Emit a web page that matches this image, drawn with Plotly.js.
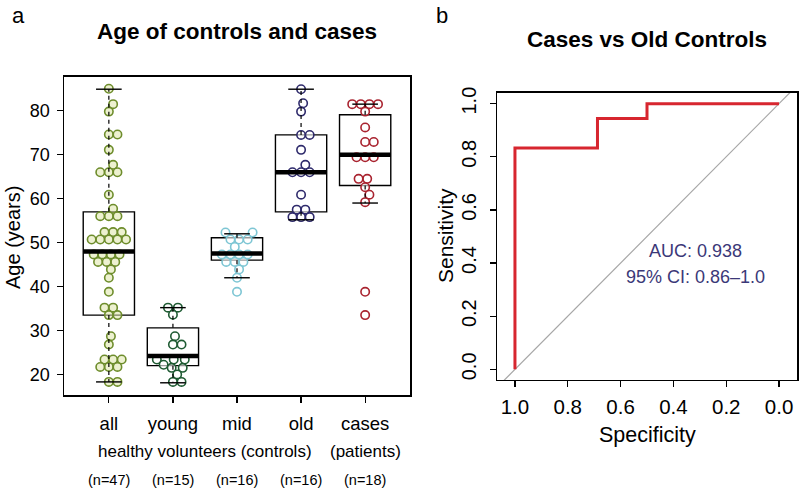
<!DOCTYPE html>
<html><head><meta charset="utf-8">
<script src="https://cdn.plot.ly/plotly-3.0.1.min.js"></script>
<style>html,body{margin:0;padding:0;background:#fff}#chart{width:800px;height:491px}</style>
</head><body><div id="chart"></div>
<script>
// ---------- data ----------
const groups = ["all", "young", "mid", "old", "cases"];
const groupN = ["(n=47)", "(n=15)", "(n=16)", "(n=16)", "(n=18)"];
const ageAll = [85, 81.5, 79.8, 74.6, 74.6, 71.1, 67.7, 66, 66, 66, 60.9, 57.7, 56, 56, 56,
  52.4, 52.4, 52.4, 50.7, 50.7, 50.7, 50.7, 50.7, 47.3, 47.3, 47.3, 47.3, 45.6, 45.6, 45.6,
  43.9, 42, 38.8, 35.2, 35.2, 33.5, 33.5, 28.7, 26.8, 23.4, 23.4, 23.4, 21.7, 21.7, 21.7, 18.3, 18.3];
const ageYoung = [35.2, 35.2, 33.6, 28.7, 26.8, 26.8, 23.4, 23.4, 23.4, 22.2, 21.5, 21.5, 20, 18.3, 18.3];
const ageMid = [52.3, 52.3, 50.7, 50.7, 50.7, 49.0, 47.3, 47.3, 47.3, 47.3, 45.6, 45.6, 45.6, 43.9, 42.0, 38.8];
const ageOld = [84.9, 81.7, 79.8, 74.5, 74.5, 71.1, 67.7, 66, 66, 66, 60.9, 57.5, 57.5, 55.8, 55.8, 55.8];
const ageCases = [81.5, 81.5, 81.5, 81.5, 79.8, 76.2, 72.9, 72.9, 69.4, 69.4, 69.4, 64.5, 64.5, 62.6, 60.9, 59.2, 38.8, 33.5];

const boxQ1 = [33.5, 22.0, 46.0, 57.0, 63.0];
const boxMedian = [48.0, 24.2, 47.5, 66.0, 70.0];
const boxQ3 = [57.0, 30.6, 51.1, 74.5, 79.1];
const whiskerLow = [18.3, 18.1, 42.0, 55.2, 59.0];
const whiskerHigh = [84.9, 35.2, 52.0, 84.9, 81.5];

const rocSpecificity = [1, 1, 0.6875, 0.6875, 0.5, 0.5, 0];
const rocSensitivity = [0, 0.8333, 0.8333, 0.9444, 0.9444, 1, 1];
const aucLines = ["AUC: 0.938", "95% CI: 0.86\u20131.0"];

// ---------- styles ----------
const lineColors = ["#6e8d2c", "#1f5b33", "#7ec6d4", "#2f2b6c", "#a9232f"];
const fillColors = ["rgba(222,230,170,0.55)", "rgba(255,255,255,0.6)", "rgba(255,255,255,0.6)", "rgba(255,255,255,0.6)", "rgba(255,255,255,0.6)"];
const groupData = [ageAll, ageYoung, ageMid, ageOld, ageCases];
const FONT = "Liberation Sans, Arial, Helvetica, sans-serif";
const W = 800, H = 491;
const xDom1 = [0.08, 0.5125], yDom1 = [0.1955, 0.8432];
const xRange1 = [0.3, 5.7], yRange1 = [15.32, 87.68];
const xDom2 = [0.62125, 0.99625], yDom2 = [0.2261, 0.8106];

const pxPerX = (xDom1[1]-xDom1[0])*W/(xRange1[1]-xRange1[0]);
const pxPerY = (yDom1[1]-yDom1[0])*H/(yRange1[1]-yRange1[0]);

// beeswarm ("swarm") layout computed in pixel space
function swarm(vals, d) {
  const idx = vals.map((v,i)=>i).sort((a,b)=>vals[a]-vals[b]);
  const placed = [], out = new Array(vals.length);
  for (const i of idx) {
    const y = vals[i]*pxPerY;
    const near = placed.filter(p=>Math.abs(p.y-y) < d);
    const cands = [0];
    near.forEach(p=>{const dx=Math.sqrt(d*d-(p.y-y)*(p.y-y)); cands.push(p.x+dx, p.x-dx);});
    cands.sort((a,b)=>(Math.abs(a)-Math.abs(b)) || (b-a));
    let xs = 0;
    for (const c of cands) {
      if (near.every(p=>Math.hypot(p.x-c, p.y-y) >= d-1e-6)) { xs = c; break; }
    }
    placed.push({x:xs, y}); out[i] = xs;
  }
  return out;
}

const traces = [];
groupData.forEach((vals, gi) => {
  const off = swarm(vals, 8.6);
  traces.push({
    type:'scatter', mode:'markers', xaxis:'x', yaxis:'y', hoverinfo:'skip', showlegend:false,
    x: off.map(o => gi + 1 + o/pxPerX), y: vals,
    marker:{symbol:'circle', size:8.4, color:fillColors[gi], line:{color:lineColors[gi], width:1.6}},
    cliponaxis:false
  });
});

// box bodies
traces.push({
  type:'box', xaxis:'x', yaxis:'y', x:[1,2,3,4,5], q1:boxQ1, median:boxMedian, q3:boxQ3,
  lowerfence:boxQ1, upperfence:boxQ3, width:0.8, whiskerwidth:0, boxpoints:false,
  fillcolor:'rgba(0,0,0,0)', line:{color:'black', width:1.4}, hoverinfo:'skip', showlegend:false
});
// dashed whiskers
const wx = [], wy = [];
groups.forEach((g,i)=>{ wx.push(i+1,i+1,null,i+1,i+1,null); wy.push(boxQ3[i],whiskerHigh[i],null,boxQ1[i],whiskerLow[i],null); });
traces.push({type:'scatter', mode:'lines', xaxis:'x', yaxis:'y', x:wx, y:wy, hoverinfo:'skip', showlegend:false,
  line:{color:'black', width:1.2, dash:'4px,4px'}});
// staples
const sx = [], sy = [];
groups.forEach((g,i)=>{ sx.push(i+0.8,i+1.2,null,i+0.8,i+1.2,null); sy.push(whiskerHigh[i],whiskerHigh[i],null,whiskerLow[i],whiskerLow[i],null); });
traces.push({type:'scatter', mode:'lines', xaxis:'x', yaxis:'y', x:sx, y:sy, hoverinfo:'skip', showlegend:false,
  line:{color:'black', width:1.4}});
// thick medians
const mx = [], my = [];
groups.forEach((g,i)=>{ mx.push(i+0.6,i+1.4,null); my.push(boxMedian[i],boxMedian[i],null); });
traces.push({type:'scatter', mode:'lines', xaxis:'x', yaxis:'y', x:mx, y:my, hoverinfo:'skip', showlegend:false,
  line:{color:'black', width:4.5}});

// ROC panel
traces.push({type:'scatter', mode:'lines', xaxis:'x2', yaxis:'y2', x:[1.2,-0.2], y:[-0.2,1.2], hoverinfo:'skip', showlegend:false,
  line:{color:'#a6a6a6', width:1.2}});
traces.push({type:'scatter', mode:'lines', xaxis:'x2', yaxis:'y2', x:rocSpecificity, y:rocSensitivity, hoverinfo:'skip', showlegend:false,
  line:{color:'#d7262f', width:3}});

const axBase = {showgrid:false, zeroline:false, showline:true, mirror:true, linecolor:'black', linewidth:1.5,
  ticks:'outside', ticklen:6, tickwidth:1.2, tickcolor:'black', fixedrange:true};

const P = (px)=>px/W, Q = (py)=>1-py/H;
const annotations = [
  {text:'a', x:P(18), y:Q(16), font:{size:22}},
  {text:'b', x:P(442), y:Q(16), font:{size:22}},
  {text:'<b>Age of controls and cases</b>', x:P(237), y:Q(31), font:{size:22.5}},
  {text:'<b>Cases vs Old Controls</b>', x:P(647), y:Q(40), font:{size:22.5}},
  {text:'Age (years)', x:P(13), y:Q(238), textangle:-90, font:{size:20}},
  {text:'Sensitivity', x:P(445), y:Q(236), textangle:-90, font:{size:21}},
  {text:'Specificity', x:P(647), y:Q(435), font:{size:21.5}},
  {text:'healthy volunteers (controls)', xref:'x', x:2.5, y:Q(451), font:{size:17}},
  {text:'(patients)', xref:'x', x:5, y:Q(451), font:{size:17}},
];
groupN.forEach((t,i)=>annotations.push({text:t, xref:'x', x:i+1, y:Q(480), font:{size:14.5}}));
aucLines.forEach((t,i)=>annotations.push({text:t, xref:'x2', yref:'y2', x:0.318, y:i===0?0.445:0.347, font:{size:18, color:'#3b3878'}}));
annotations.forEach(a=>{ a.xref = a.xref||'paper'; a.yref = a.yref||'paper'; a.showarrow=false; a.xanchor='center'; a.yanchor='middle';
  a.font = Object.assign({family:FONT, color:'black'}, a.font); });

const layout = {
  width:W, height:H, margin:{l:0,r:0,t:0,b:0}, paper_bgcolor:'white', plot_bgcolor:'white',
  font:{family:FONT, color:'black'}, showlegend:false,
  xaxis:Object.assign({}, axBase, {domain:xDom1, range:xRange1, anchor:'y', tickvals:[1,2,3,4,5], ticktext:groups, tickfont:{size:18.5}, ticklabelstandoff:5}),
  yaxis:Object.assign({}, axBase, {domain:yDom1, range:yRange1, anchor:'x', tickvals:[20,30,40,50,60,70,80], tickfont:{size:18}, ticklabelstandoff:3}),
  xaxis2:Object.assign({}, axBase, {domain:xDom2, range:[1.068,-0.068], anchor:'y2', tickvals:[1,0.8,0.6,0.4,0.2,0], tickformat:'.1f', tickfont:{size:20.5}, ticklabelstandoff:2}),
  yaxis2:Object.assign({}, axBase, {domain:yDom2, range:[-0.04,1.04], anchor:'x2', tickvals:[0,0.2,0.4,0.6,0.8,1], tickformat:'.1f', tickangle:-90, tickfont:{size:20}, ticklabelstandoff:6}),
  annotations
};
Plotly.newPlot('chart', traces, layout, {staticPlot:true, displayModeBar:false});
</script></body></html>
